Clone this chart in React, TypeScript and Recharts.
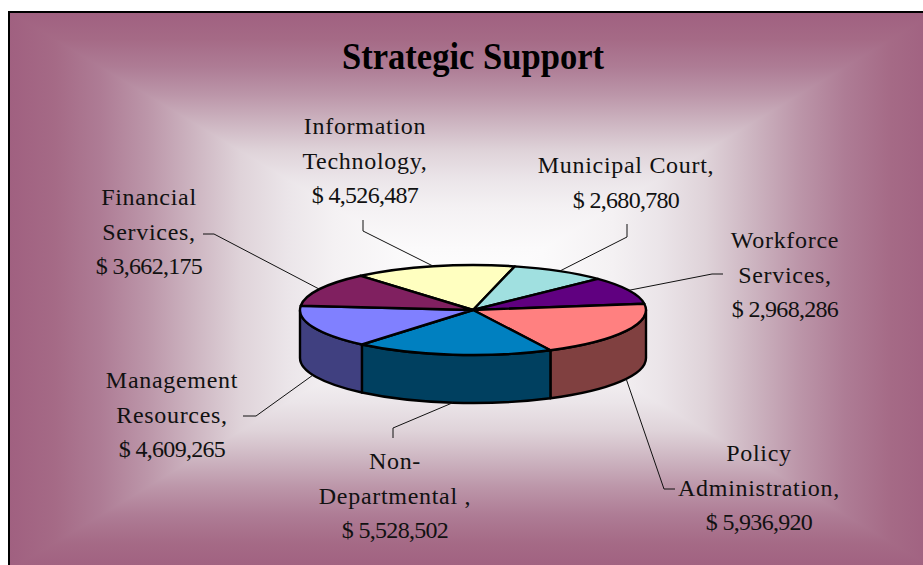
import React from 'react';
import { PieChart, Pie } from 'recharts';

// Values, clockwise from the Information Technology slice
const categories = ['Information Technology', 'Municipal Court', 'Workforce Services', 'Policy Administration', 'Non-Departmental', 'Management Resources', 'Financial Services'];
const amounts = [4526487, 2680780, 2968286, 5936920, 5528502, 4609265, 3662175];
const labelText = [
  ['Information', 'Technology,'],
  ['Municipal Court,'],
  ['Workforce', 'Services,'],
  ['Policy', 'Administration,'],
  ['Non-', 'Departmental ,'],
  ['Management', 'Resources,'],
  ['Financial', 'Services,'],
];
const faceColors = ['#FFFFC0', '#A0E0E0', '#600080', '#FF8080', '#0080C0', '#8080FF', '#802060'];
const wallColors = ['#808060', '#507070', '#300040', '#804040', '#004060', '#404080', '#401030'];

// Label block placement: centre x, first baseline, then the leader's elbow points
const labelSpots = [
  { x: 365, y: 134, elbow: [[363, 231], [363, 220]] },
  { x: 626, y: 173, elbow: [[627, 237], [627, 224]] },
  { x: 785, y: 248, elbow: [[712, 274], [723, 274]] },
  { x: 759, y: 461, elbow: [[664, 489], [675, 489]] },
  { x: 395, y: 469, elbow: [[393, 428], [393, 438]] },
  { x: 172, y: 388, elbow: [[256, 416], [243, 416]] },
  { x: 149, y: 205, elbow: [[214, 234], [203, 234]] },
];

const W = 923;
const H = 565;
const CX = 473;
const CY = 310;
const RADIUS = 173;
const SQUASH = 45 / 173;
const DEPTH = 48;
const LINE_GAP = 34.5;
const FONT = '"Liberation Serif", serif';
const TEXT_COLOR = '#111';

const data = categories.map((name, i) => ({ name, value: amounts[i], fill: faceColors[i], wall: wallColors[i] }));

const rad = (a: number) => (a * Math.PI) / 180;
const rim = (cx: number, cy: number, r: number, a: number) => [cx + r * Math.cos(rad(a)), cy - r * SQUASH * Math.sin(rad(a))];

// Flattened top of a slice
const FaceSector = (props: any) => {
  const { cx, cy, outerRadius: r, startAngle, endAngle, fill } = props;
  const [x1, y1] = rim(cx, cy, r, startAngle);
  const [x2, y2] = rim(cx, cy, r, endAngle);
  const large = Math.abs(startAngle - endAngle) > 180 ? 1 : 0;
  const d = `M${cx},${cy}L${x1},${y1}A${r},${r * SQUASH} 0 ${large} 1 ${x2},${y2}Z`;
  return <path d={d} fill={fill} stroke="#000" strokeWidth={2.4} strokeLinejoin="round" />;
};

// Side wall, only for the part of the slice on the front half of the rim
const WallSector = (props: any) => {
  const { cx, cy, outerRadius: r, startAngle, endAngle, wall } = props;
  const a1 = Math.min(startAngle, 0);
  const a2 = Math.max(endAngle, -180);
  if (a1 <= a2) return null;
  const [x1, y1] = rim(cx, cy, r, a1);
  const [x2, y2] = rim(cx, cy, r, a2);
  const rx = r;
  const ry = r * SQUASH;
  const d = `M${x1},${y1}A${rx},${ry} 0 0 1 ${x2},${y2}L${x2},${y2 + DEPTH}A${rx},${ry} 0 0 0 ${x1},${y1 + DEPTH}Z`;
  return <path d={d} fill={wall} stroke="#000" strokeWidth={2.4} strokeLinejoin="round" />;
};

const renderLabel = (props: any) => {
  const { cx, cy, outerRadius, midAngle, index } = props;
  const spot = labelSpots[index];
  const [rx, ry] = rim(cx, cy, outerRadius, midAngle);
  const front = Math.sin(rad(midAngle)) < 0;
  const start = [rx, front ? ry + DEPTH : ry];
  const pts = [start, ...spot.elbow].map((p) => p.join(',')).join(' ');
  const words = labelText[index];
  return (
    <g key={index}>
      <polyline points={pts} fill="none" stroke="#111" strokeWidth={1} />
      <text x={spot.x} y={spot.y} textAnchor="middle" fontFamily={FONT} fontSize={24} fill={TEXT_COLOR}>
        {words.map((t, i) => (
          <tspan key={i} x={spot.x} y={spot.y + i * LINE_GAP} letterSpacing={0.7}>{t}</tspan>
        ))}
        <tspan x={spot.x} y={spot.y + words.length * LINE_GAP} letterSpacing={-0.7}>
          {`$ ${amounts[index].toLocaleString('en-US')}`}
        </tspan>
      </text>
    </g>
  );
};

// Concentric rectangle fill: the same stops run from each edge to the centre,
// so the colours meet along the diagonals
const FRAME = { left: 8, top: 11, width: 930, height: 560 };
const STOPS: [string, number][] = [
  ['#A06080', 0], ['#A56A86', 0.1], ['#AE7C95', 0.2], ['#BC96A9', 0.3], ['#CDB5C1', 0.4],
  ['#DFD3D9', 0.5], ['#EBE5E9', 0.6], ['#F4F1F3', 0.7], ['#FBFAFB', 0.85], ['#FFFFFF', 1],
];
const oneSide = (to: string) => `linear-gradient(${to}, ${STOPS.map(([c, f]) => `${c} ${f * 50}%`).join(', ')})`;
const bothSides = (to: string) => {
  const first = STOPS.map(([c, f]) => `${c} ${f * 50}%`);
  const second = [...STOPS].reverse().map(([c, f]) => `${c} ${100 - f * 50}%`);
  return `linear-gradient(${to}, ${[...first, ...second].join(', ')})`;
};

export default function App() {
  return (
    <div style={{ position: 'absolute', left: 0, top: 0, width: W, height: H, overflow: 'hidden', background: '#fff' }}>
      <div style={{ position: 'absolute', ...FRAME, background: bothSides('to bottom') }}>
        <div style={{ position: 'absolute', inset: 0, background: oneSide('to right'), clipPath: 'polygon(0 0, 0 100%, 50% 50%)' }} />
        <div style={{ position: 'absolute', inset: 0, background: oneSide('to left'), clipPath: 'polygon(100% 0, 100% 100%, 50% 50%)' }} />
      </div>
      <div style={{ position: 'absolute', left: 8, top: 11, width: 930, height: 1.5, background: '#000' }} />
      <div style={{ position: 'absolute', left: 8, top: 11, width: 1.5, height: 578, background: '#000' }} />
      <div style={{ position: 'absolute', left: 0, top: 0 }}>
        <PieChart width={W} height={H} margin={{ top: 0, right: 0, bottom: 0, left: 0 }}>
          <text x={473} y={69} textAnchor="middle" fontFamily={FONT} fontSize={37} fontWeight="bold" fill="#000" textLength={262} lengthAdjust="spacingAndGlyphs">
            Strategic Support
          </text>
          <Pie
            data={data}
            dataKey="value"
            nameKey="name"
            cx={CX}
            cy={CY}
            outerRadius={RADIUS}
            startAngle={130.5}
            endAngle={-229.5}
            shape={WallSector}
            isAnimationActive={false}
            label={false}
            labelLine={false}
          />
          <Pie
            data={data}
            dataKey="value"
            nameKey="name"
            cx={CX}
            cy={CY}
            outerRadius={RADIUS}
            startAngle={130.5}
            endAngle={-229.5}
            shape={FaceSector}
            isAnimationActive={false}
            label={renderLabel}
            labelLine={false}
          />
        </PieChart>
      </div>
    </div>
  );
}
